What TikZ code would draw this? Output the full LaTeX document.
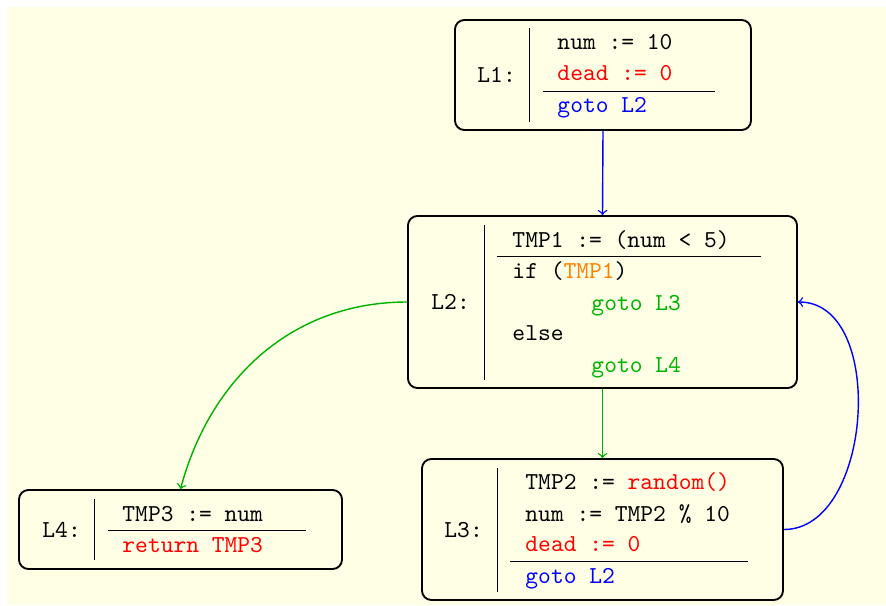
\documentclass[tikz,border=0pt]{standalone}
\usepackage{xcolor}
\definecolor{paper}{RGB}{255,255,230}
\definecolor{okgreen}{RGB}{0,178,0}
\definecolor{hotorange}{RGB}{255,128,0}
\newcommand{\pxu}{0.4274pt}
\begin{document}
\begin{tikzpicture}[x=\pxu, y=\pxu,
  block/.style={draw, thick, rounded corners=4pt, inner sep=0pt},
  code/.style={font=\fontsize{10.4}{12.5}\selectfont\ttfamily, anchor=base west, inner sep=0pt},
  rule/.style={line width=0.4pt},
  flow/.style={->, semithick}]
\useasboundingbox (0,0) rectangle (886,-605);
\fill[paper] (7,-7) rectangle (886,-605);

% basic blocks
\node[block, minimum width=296*\pxu, minimum height=110*\pxu] (L1) at (603,-75) {};
\node[block, minimum width=389*\pxu, minimum height=172*\pxu] (L2) at (602.5,-302) {};
\node[block, minimum width=361*\pxu, minimum height=141*\pxu] (L3) at (602.5,-529.5) {};
\node[block, minimum width=323*\pxu, minimum height=79*\pxu] (L4) at (180.5,-529.5) {};

% L1
\node[code] (l1lab) at (477,-82) {L1:};
\draw[rule] (529,-28) -- (529,-122);
\node[code] (l1a) at (557,-50) {num := 10};
\node[code, text=red] (l1b) at (557,-80) {dead := 0};
\draw[rule] (543,-91) -- (715,-91);
\node[code, text=blue] (l1c) at (557,-112) {goto L2};

% L2
\node[code] (l2lab) at (431,-309) {L2:};
\draw[rule] (484,-225) -- (484,-380);
\node[code] (l2a) at (512,-247) {TMP1 := (num < 5)};
\draw[rule] (497,-256) -- (761,-256);
\node[code] (l2b) at (512,-278) {if (\textcolor{hotorange}{TMP1})};
\node[code, text=okgreen] (l2c) at (591,-310) {goto L3};
\node[code] (l2d) at (512,-340) {else};
\node[code, text=okgreen] (l2e) at (591,-372) {goto L4};

% L3
\node[code] (l3lab) at (444,-537) {L3:};
\draw[rule] (497,-468) -- (497,-592);
\node[code] (l3a) at (525,-489) {TMP2 := \textcolor{red}{random()}};
\node[code] (l3b) at (525,-521) {num := TMP2 \% 10};
\node[code, text=red] (l3c) at (525,-551) {dead := 0};
\draw[rule] (510,-561) -- (748,-561);
\node[code, text=blue] (l3d) at (525,-583) {goto L2};

% L4
\node[code] (l4lab) at (42,-537) {L4:};
\draw[rule] (94,-499) -- (94,-560);
\node[code] (l4a) at (122,-521) {TMP3 := num};
\draw[rule] (108,-530) -- (306,-530);
\node[code, text=red] (l4b) at (122,-552) {return TMP3};

% control flow edges
\draw[flow, blue] (L1.south) -- (L2.north);
\draw[flow, okgreen] (L2.south) -- (L3.north);
\draw[flow, okgreen] (L2.west) to[out=180, in=75] (L4.north);
\draw[flow, blue] (L3.east) to[out=0, in=0] (L2.east);
\end{tikzpicture}
\end{document}
